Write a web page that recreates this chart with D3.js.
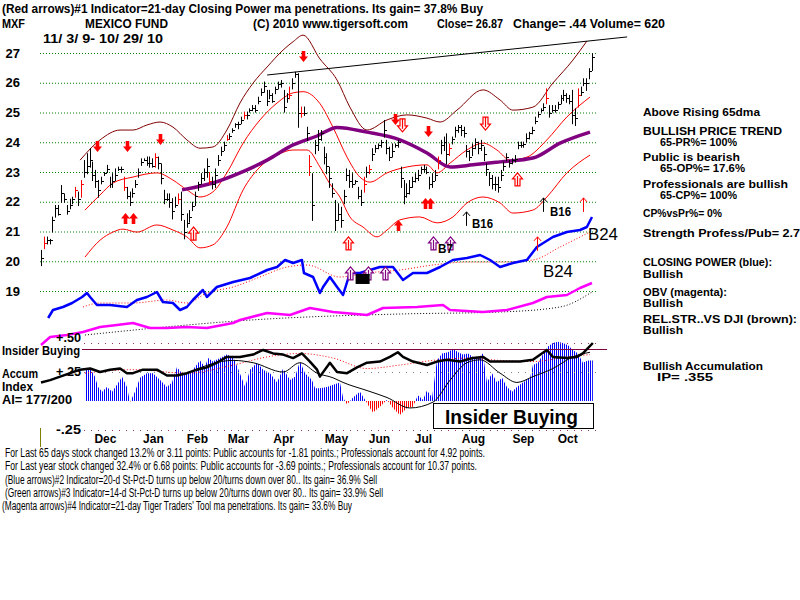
<!DOCTYPE html>
<html>
<head>
<meta charset="utf-8">
<script src="https://cdn.jsdelivr.net/npm/d3@7"></script>
<style>
    body { margin: 0; background: #fff; }
    svg { display: block; }
    text { font-family: "Liberation Sans", Arial, sans-serif; }
</style>
</head>
<body>
<svg id="chart" width="800" height="600"></svg>
<script>
// ---- price bars (about every 2nd trading day, 11/3/09 - 10/29/10) ----
const barHigh = [20.38,20.83,20.83,20.75,21.5,21.89,21.89,22.56,22.28,21.89,22.1,22.17,22.5,22.34,22.73,23.4,23.63,23.8,23.35,23.07,22.73,22.84,23.0,23.24,22.84,22.96,23.12,23.18,23.18,22.84,22.5,22.34,22.45,22.73,23.12,23.46,23.46,23.52,23.52,23.46,23.63,23.52,23.29,22.4,22.28,22.28,22.12,22.17,22.28,
    22.34,21.39,21.61,21.72,22.0,22.34,22.67,22.96,23.12,23.46,23.0,22.84,23.12,23.57,23.85,24.02,24.24,24.3,24.47,24.64,24.69,24.86,25.03,25.03,25.14,25.25,25.25,25.53,25.81,26.04,25.76,25.76,25.65,25.87,26.04,26.09,25.76,25.65,25.87,26.15,26.37,26.32,25.2,25.2,24.52,23.57,
    22.96,24.08,24.41,24.41,23.85,23.63,23.18,22.62,22.06,21.95,21.83,22.4,23.12,23.07,22.96,22.73,22.5,22.4,22.84,23.18,23.24,23.8,23.91,23.96,24.08,24.75,24.08,23.85,23.96,23.96,24.08,23.18,22.73,22.62,22.73,22.84,22.96,23.07,23.18,23.24,23.18,22.84,22.96,23.07,23.52,24.08,24.19,24.3,23.96,24.19,24.52,24.58,
    24.58,24.52,23.91,23.74,23.96,24.13,24.02,24.08,23.85,23.29,23.0,22.9,22.84,22.84,23.07,23.35,23.63,23.4,23.46,23.57,24.02,24.02,24.02,24.3,24.35,24.52,24.86,25.03,25.14,25.31,25.81,25.25,25.25,25.25,25.36,25.59,25.76,25.65,25.59,25.76,25.14,25.81,25.87,26.15,26.15,26.49,26.99];
const barLow = [19.87,20.44,20.6,20.6,21.0,21.5,21.57,22.0,22.0,21.6,21.78,21.95,22.17,21.89,22.17,22.84,22.96,23.18,22.73,22.5,22.17,22.62,22.9,23.0,22.5,22.5,22.73,23.07,23.0,22.4,22.12,21.89,22.17,22.5,22.84,23.24,23.4,23.24,23.18,23.18,23.18,23.12,22.62,21.95,22.06,21.83,21.44,21.83,21.95,
    21.39,20.77,21.16,21.33,21.72,21.89,22.4,22.62,22.73,22.84,22.62,22.45,22.5,23.24,23.57,23.74,24.08,24.13,24.35,24.52,24.47,24.64,24.8,24.8,25.03,25.08,25.03,25.31,25.59,25.7,25.25,25.48,25.36,25.65,25.81,25.87,25.03,25.36,25.48,25.81,26.2,24.52,24.86,24.92,24.08,22.9,
    21.39,23.63,23.74,24.08,23.29,22.96,22.5,22.17,21.05,21.39,21.16,21.95,22.73,22.5,22.5,22.62,22.12,21.89,22.34,22.84,22.96,23.4,23.68,23.8,23.85,24.19,23.63,23.4,23.52,23.85,23.85,22.5,21.95,22.17,22.28,22.5,22.68,22.73,22.96,23.02,22.96,22.45,22.5,22.73,23.12,23.63,23.74,23.29,23.57,23.96,24.19,24.35,
    24.24,24.19,23.52,23.4,23.57,23.8,23.63,23.74,23.4,22.9,22.56,22.45,22.4,22.34,22.73,23.07,23.4,23.18,23.29,23.35,23.8,23.85,23.85,24.02,24.13,24.3,24.64,24.86,25.03,25.08,25.31,24.86,25.03,25.03,25.14,25.31,25.42,25.36,25.31,24.64,24.58,25.2,25.59,25.92,25.76,26.15,26.43];
const barClose = [20.1,20.6,20.7,20.7,21.4,21.8,21.6,22.3,22.1,21.7,21.9,22.1,22.4,22.1,22.6,23.0,23.2,23.4,22.9,22.7,22.4,22.7,22.95,23.1,22.6,22.7,22.9,23.1,23.1,22.5,22.2,22.0,22.3,22.6,23.0,23.35,23.4,23.3,23.3,23.2,23.5,23.3,22.8,22.1,22.1,22.0,21.7,21.9,22.1,
    21.6,21.0,21.3,21.5,21.85,22.2,22.6,22.8,23.0,23.2,22.7,22.6,22.9,23.4,23.7,23.9,24.1,24.2,24.4,24.6,24.6,24.75,24.9,24.9,25.1,25.15,25.1,25.4,25.7,25.9,25.4,25.6,25.4,25.8,25.95,26.0,25.2,25.5,25.6,26.0,26.3,25.0,25.0,25.0,24.3,23.2,
    21.9,23.9,24.1,24.3,23.5,23.2,22.8,22.3,21.4,21.6,21.4,22.2,22.9,22.7,22.6,22.7,22.2,22.0,22.6,23.0,23.1,23.6,23.8,23.9,24.0,24.4,23.8,23.5,23.7,23.9,24.0,22.8,22.2,22.3,22.5,22.7,22.8,22.9,23.1,23.1,23.0,22.6,22.7,22.9,23.4,23.9,24.0,23.6,23.8,24.1,24.4,24.5,
    24.4,24.3,23.7,23.5,23.8,24.0,23.8,23.9,23.6,23.1,22.8,22.6,22.6,22.5,22.9,23.2,23.5,23.3,23.4,23.45,23.9,23.9,23.95,24.15,24.3,24.4,24.7,24.95,25.1,25.2,25.5,25.0,25.1,25.1,25.3,25.5,25.6,25.5,25.4,24.9,24.8,25.6,25.7,26.0,26.0,26.4,26.87];
// bars drawn red (Closing Power signal days)
const redBars = [1,12,14,29,40,48,59,65,71,87,91,94,113,115,139,143,177,188];

const priceTicks = [19,20,21,22,23,24,25,26,27];
const months = ["Dec","Jan","Feb","Mar","Apr","May","Jun","Jul","Aug","Sep","Oct"];
const monthPos = [22.4,39.2,54.6,69,84.8,103.3,118.4,133.8,151.3,168.8,184.3];

// ---- 21-day ma and its bands (bar index, price) ----
const maDay = [15.4,20.7,25.2,32.2,40.6,46.2,51.1,55.7,60.2,65.1,70.8,76.7,82.7,88.3,91.8,97.7,102.3,107.2,111.7,115.2,121.2,128.2,135.2,138.7,143.3,149.2,154.8,159.7,164.3,170.2,177.2,184.2,192.3];
const maVal = [21.72,22.23,22.63,22.83,22.97,22.73,22.4,22.16,22.33,22.97,23.97,24.75,25.32,25.66,25.7,25.3,24.5,23.5,22.83,22.66,22.97,23.17,23.24,22.97,23.3,23.74,23.97,23.74,23.4,23.5,24.08,24.85,25.52];
const upperDay = [13.7,20.7,27.7,32.2,37.1,41.7,46.2,51.1,55.7,60.2,65.1,69.7,74.3,79.2,84.8,88.3,91.8,97.7,103.7,108.2,114.2,121.2,128.2,135.2,139.8,145.7,154.8,160.8,165.3,172.3,179.3,186.3,191.2];
const upperVal = [23.4,24.08,24.41,24.41,24.58,24.68,24.51,24.08,23.8,23.84,24.41,25.32,25.99,26.53,27.1,27.38,27.6,26.8,26.09,25.18,24.41,24.75,24.92,24.81,24.68,25.08,25.76,25.42,25.08,25.18,25.99,26.76,27.4];
const lowerDay = [15.4,20.7,25.2,28.7,33.6,40.6,46.2,51.1,55.7,60.2,65.1,70.8,76.7,82.7,88.3,93.2,97.7,101.2,104.7,108.2,112.8,117.7,121.2,125.7,132.7,138.7,144.3,149.2,154.8,160.8,165.3,172.3,177.2,184.2,192.3];
const lowerVal = [20.14,20.71,20.98,21.08,20.98,21.22,21.05,20.82,20.45,20.55,21.15,22.4,23.17,23.57,23.74,23.74,23.17,22.6,22.16,21.49,21.15,20.82,21.05,21.39,21.49,21.29,21.49,21.96,22.16,21.96,21.62,21.72,22.16,22.97,23.57];
const ma65Day = [49.4,60.2,69.7,79.2,88.3,96.7,103.7,114.2,125.7,135.2,143.3,151.3,160.8,172.3,181.8,192.3];
const ma65Val = [22.4,22.63,22.97,23.4,23.91,24.21,24.5,24.34,24.08,23.64,23.17,23.24,23.34,23.47,23.97,24.34];
const trendDay = [79.2,205.3];
const trendVal = [26.26,27.54];

// ---- Closing Power (blue) and its ma, OBV (magenta) and its ma ----
const cpDay = [2.5,4.2,7.7,10.9,14.4,16.1,17.2,19.6,24.2,30.1,33.6,37.1,40.6,42.7,46.2,48.7,51.1,53.2,56.7,58.1,61.6,67.3,73.2,79.2,82.7,85.5,88.3,91.4,92.1,95.3,97.7,98.8,101.2,103.7,105.8,108.2,111.7,115.2,118.7,123.3,126.8,130.3,135.2,139.8,144.3,149.2,153.8,157.3,160.8,165.3,170.2,173.7,179.3,184.2,188.8,191.2,193];
const cpVal = [2,10,13,17,23,27,23,15,15,13,20,23,28,18,17,10,13,20,30,23,33,38,42,50,53,60,57,60,47,43,27,33,43,33,25,47,47,50,53,53,40,47,47,53,60,62,65,60,53,57,60,73,83,88,90,93,103];
const cpMaDay = [14.7,20.7,32.2,44.1,51.1,58.1,67.3,76.7,86.2,93.2,104.7,114.2,125.7,137.3,149.2,160.8,172.3,181.8,192.3];
const cpMaVal = [13,17,17,20,17,27,33,43,53,55,43,47,50,55,58,58,60,73,88];
const obvDay = [0,3.2,9.1,14.7,20.7,26.6,32.2,38.2,44.1,51.1,58.1,67.3,69.7,79.2,87.2,94.2,102.3,114.2,119.8,131.7,140.8,143.3,154.8,163.2,172.3,177.2,184.2,188.8,193];
const obvVal = [5,13,15,18,23,25,27,22,22,23,22,27,30,37,35,42,38,35,42,43,45,40,38,40,47,53,55,62,67];
const obvMaDay = [15.4,79.2,125.7,160.8,181.8,193];
const obvMaVal = [15,31,36,38,43,58];

// ---- Accumulation Index panel ----
const aiDay = [15.4,17.2,18.9,20.0,21.4,23.1,24.9,26.6,28.4,30.1,31.2,32.9,34.7,37.1,39.2,41.7,44.1,45.9,47.6,49.4,51.1,53.2,55.7,57.4,58.5,60.2,62.7,65.1,67.3,69.0,71.5,73.2,75.7,77.8,80.2,82.7,84.8,87.2,89.0,90.7,92.5,94.9,96.0,97.7,100.2,102.3,104.7,105.8,107.2,109.3,111.7,113.5,115.2,116.3,118.7,121.2,123.3,125.7,128.2,130.3,132.0,133.8,135.2,137.0,138.7,140.5,142.6,144.3,146.1,147.8,149.6,151.3,153.1,154.8,156.2,158.0,159.7,161.5,163.2,165.0,166.7,168.8,171.3,172.3,174.1,175.8,177.6,179.3,181.1,182.8,184.6,186.3,188.1,189.8,191.6,193.3];
const aiVal = [0.27,0.28,0.21,0.12,0.08,0.12,0.08,0.14,0.21,0.12,-0.01,0.08,0.2,0.24,0.24,0.18,0.12,0.16,0.29,0.24,0.24,0.27,0.35,0.29,0.37,0.34,0.37,0.4,0.38,0.28,0.12,0.27,0.33,0.27,0.24,0.16,0.28,0.18,0.21,0.34,0.24,0.18,0.11,0.11,0.12,0.14,0.16,0.03,-0.03,0.03,0.08,0.01,-0.06,-0.1,-0.05,0.01,-0.06,-0.12,-0.06,-0.05,0.05,0.01,0.09,0.03,0.35,0.41,0.42,0.45,0.42,0.4,0.41,0.38,0.37,0.41,0.16,0.24,0.16,0.2,0.12,0.08,0.12,0.16,0.2,0.31,0.33,0.4,0.47,0.5,0.51,0.5,0.48,0.44,0.41,0.33,0.35,0.35];
const rsDay = [0,3.2,6.7,10.2,13.7,17.2,20.7,24.2,27.7,30.1,32.2,35.7,40.6,44.1,47.6,51.1,54.6,58.1,61.6,65.1,69.7,74.3,77.8,81.3,84.8,88.3,91.4,94.2,96.7,97.7,101.2,103.7,107.2,110.7,114.2,118.7,122.2,125.0,126.8,130.3,135.2,138.7,142.2,146.8,151.3,154.8,157.3,163.2,167.8,172.3,177.2,179.3,184.2,187.7,189.8,193.3];
const rsVal = [0.16,0.18,0.21,0.24,0.27,0.28,0.25,0.27,0.28,0.24,0.24,0.27,0.27,0.22,0.22,0.24,0.27,0.29,0.33,0.38,0.38,0.4,0.44,0.41,0.4,0.37,0.41,0.34,0.27,0.21,0.33,0.25,0.24,0.29,0.33,0.34,0.38,0.42,0.38,0.34,0.31,0.34,0.355,0.34,0.37,0.38,0.34,0.34,0.34,0.355,0.44,0.38,0.37,0.38,0.41,0.5];
const aiMaDay = [51.1,67.3,74.3,84.8,90.7,96.7,102.3,105.8,114.2,121.2,129.2,137.3,143.3,149.2,153.8,160.8,166.7,172.3,179.3,186.3,192.3];
const aiMaVal = [0.24,0.35,0.33,0.25,0.33,0.24,0.2,0.16,0.09,0.03,-0.06,-0.01,0.18,0.33,0.355,0.24,0.16,0.21,0.28,0.38,0.42];
const aiMa2Day = [15.4,32.2,51.1,67.3,79.2,90.7,102.3,114.2,125.7,137.3,149.2,160.8,172.3,184.2,192.3];
const aiMa2Val = [0.24,0.27,0.24,0.31,0.38,0.41,0.37,0.28,0.31,0.35,0.37,0.35,0.34,0.38,0.4];
const aiTicks = [0.5, 0.25, -0.25];
const aiTickLabels = ["+.50", "+.25", "-.25"];

// ---- signal arrows (bar index, price at arrow tip) ----
const signalDay = [19.6,30.1,41.7,91.8,124,126.4,135.6,155.5,29.4,32.2,53.2,107.5,125,134.5,136.3,166.7,173.7,189.8,148.9,175.8,137.3,143.3,108.2,114.5,120.5];
const signalPrice = [23.67,23.67,23.91,26.7,24.58,24.35,24.18,24.41,21.62,21.62,21.15,20.82,21.39,22.13,22.13,22.97,20.82,22.13,21.66,22.13,20.82,20.82,19.81,19.81,19.81];
const signalType = ["sell","sell","sell","sell","sell","sell2","sell","sell2","buy","buy","buy2","buy2","buy","buy","buy","buy2","buyThin","buyThin","b16","b16","b7","b7","b7","b7","b7"];
const signalLabel = ["B16","B16","B7","B24","B24","B7"];
const signalLabelDay = [151,178.3,139.1,191.6,175.8,110.2];
const signalLabelPrice = [21.12,21.52,20.28,20.71,19.47,19.27];

const headerLine = "(Red arrows)#1 Indicator=21-day Closing Power ma penetrations. Its gain= 37.8% Buy";
const headerItems = ["MXF", "MEXICO FUND", "(C) 2010 www.tigersoft.com", "Close=  26.87", "Change= .44 Volume= 620"];
const dateRange = "11/ 3/ 9- 10/ 29/ 10";
const sideNotes = ["Above Rising 65dma", "BULLISH PRICE TREND", "65-PR%= 100%", "Public is bearish", "65-OP%= 17.6%",
    "Professionals are bullish", "65-CP%= 100%", "CP%vsPr%=  0%", "Strength Profess/Pub= 2.7",
    "CLOSING POWER (blue):", "Bullish", "OBV (magenta):", "Bullish", "REL.STR..VS DJI (brown):", "Bullish",
    "Bullish Accumulation", "IP=  .355"];
const footNotes = [
    "For Last 65 days stock changed  13.2% or  3.11 points:  Public accounts for -1.81 points.;  Professionals account for  4.92 points.",
    "For Last year stock changed  32.4% or  6.68 points:  Public accounts for -3.69 points.;  Professionals account for  10.37 points.",
    "(Blue arrows)#2 Indicator=20-d St-Pct-D turns up below 20/turns down over 80.. Its gain= 36.9% Sell",
    "(Green arrows)#3 Indicator=14-d St-Pct-D turns up below 20/turns down over 80.. Its gain= 33.9% Sell",
    "(Magenta arrows)#4 Indicator=21-day Tiger Traders' Tool ma penetrations. Its gain= 33.6% Buy"];
const panelLabels = ["Insider Buying", "Accum", "Index", "AI= 177/200"];

const svg = d3.select("#chart");
svg.append("rect").attr("width", 800).attr("height", 600).attr("fill", "#fff");

const x = d3.scaleLinear().domain([0, barHigh.length - 1]).range([41, 592]);
const y = d3.scaleLinear().domain([19, 27]).range([291, 53]);
const cpY = d3.scaleLinear().domain([0, 100]).range([320, 220]);
const obvY = d3.scaleLinear().domain([0, 50]).range([350, 300]);
const aiY = d3.scaleLinear().domain([-0.25, 0.5]).range([430, 343]);

function addText(str, xPos, yPos, size, weight, fitWidth, family) {
    const t = svg.append("text")
        .attr("x", xPos)
        .attr("y", yPos)
        .attr("font-size", `${size}px`)
        .attr("font-weight", weight)
        .attr("fill", "#000")
        .text(str);
    if (family) t.style("font-family", family);
    if (fitWidth) t.attr("textLength", fitWidth).attr("lengthAdjust", "spacingAndGlyphs");
    return t;
}

function drawSeries(days, vals, yScale, color, width, dash, curve) {
    svg.append("path")
        .datum(d3.zip(days, vals))
        .attr("d", d3.line().x(d => x(d[0])).y(d => yScale(d[1])).curve(curve || d3.curveLinear))
        .attr("fill", "none")
        .attr("stroke", color)
        .attr("stroke-width", width)
        .attr("stroke-dasharray", dash || null)
        .attr("stroke-linejoin", "round");
}

// price grid + labels
svg.append("g")
    .attr("transform", "translate(40,0)")
    .call(d3.axisLeft(y).tickValues(priceTicks).tickSize(-556).tickPadding(20).tickFormat(d3.format("d")))
    .call(g => g.select(".domain").remove())
    .call(g => g.selectAll("line").attr("stroke", "#008000").attr("stroke-dasharray", "1,2"))
    .call(g => g.selectAll("text").attr("font-size", "13px").attr("font-weight", "bold").attr("fill", "#000")
        .style("font-family", "Liberation Sans, Arial, sans-serif"));

// bands and moving averages
drawSeries(upperDay, upperVal, y, "#800000", 1, null, d3.curveMonotoneX);
drawSeries(maDay, maVal, y, "#ff0000", 1, null, d3.curveMonotoneX);
drawSeries(lowerDay, lowerVal, y, "#ff0000", 1, null, d3.curveMonotoneX);
drawSeries(ma65Day, ma65Val, y, "#800080", 3.5, null, d3.curveMonotoneX);
drawSeries(trendDay, trendVal, y, "#000", 1);

// price bars
const bars = svg.append("g");
barHigh.forEach((h, i) => {
    const col = redBars.includes(i) ? "#ff0000" : "#000";
    const bx = Math.round(x(i)) + 0.5;
    bars.append("line")
        .attr("x1", bx).attr("x2", bx)
        .attr("y1", y(h)).attr("y2", y(barLow[i]) + 1)
        .attr("stroke", col).attr("stroke-width", 1);
    bars.append("line")
        .attr("x1", bx).attr("x2", bx + 2.5)
        .attr("y1", Math.round(y(barClose[i])) + 0.5).attr("y2", Math.round(y(barClose[i])) + 0.5)
        .attr("stroke", col).attr("stroke-width", 1);
});

// closing power and OBV
drawSeries(cpMaDay, cpMaVal, cpY, "#ff0000", 1, "1,2", d3.curveMonotoneX);
drawSeries(cpDay, cpVal, cpY, "#0000ff", 2.5);
drawSeries(obvMaDay, obvMaVal, obvY, "#000", 1, "1,2", d3.curveMonotoneX);
drawSeries(obvDay, obvVal, obvY, "#ff00ff", 2.5);

// arrows
const arrowStyle = {
    sell: {dir: -1, kind: "solid", color: "#ff0000"},
    sell2: {dir: -1, kind: "hollow", color: "#ff0000"},
    buy: {dir: 1, kind: "solid", color: "#ff0000"},
    buy2: {dir: 1, kind: "hollow", color: "#ff0000"},
    buyThin: {dir: 1, kind: "thin", color: "#ff0000"},
    b16: {dir: 1, kind: "thin", color: "#000"},
    b7: {dir: 1, kind: "hollow", color: "#800080"}
};
signalDay.forEach((d, i) => {
    const st = arrowStyle[signalType[i]];
    const g = svg.append("g")
        .attr("transform", `translate(${Math.round(x(d)) + 0.5},${y(signalPrice[i])}) scale(1,${st.dir})`);
    if (st.kind === "solid") {
        g.append("path")
            .attr("d", "M0,0 L-4.5,5.5 L-1.8,5.5 L-1.8,11 L1.8,11 L1.8,5.5 L4.5,5.5 Z")
            .attr("fill", st.color);
    } else if (st.kind === "hollow") {
        g.append("path")
            .attr("d", "M0,0 L-5,6 L-2.5,6 L-2.5,13 L2.5,13 L2.5,6 L5,6 Z")
            .attr("fill", "#fff").attr("stroke", st.color).attr("stroke-width", 1.2);
        g.append("path")
            .attr("d", "M0,3 L0,13")
            .attr("stroke", st.color).attr("stroke-width", 1.2);
    } else {
        g.append("path")
            .attr("d", "M0,0 L0,14 M-3.5,4 L0,0 L3.5,4")
            .attr("fill", "none").attr("stroke", st.color).attr("stroke-width", 1);
    }
});

// signal labels
signalLabel.forEach((lab, i) => {
    const lx = x(signalLabelDay[i]);
    const ly = y(signalLabelPrice[i]);
    if (lab === "B24") {
        addText(lab, lx, ly, 17, "normal", 30);
    } else if (i === 5) {
        svg.append("rect").attr("x", lx).attr("y", ly - 9).attr("width", 14).attr("height", 10).attr("fill", "#000");
        addText(lab, lx, ly, 12, "bold", 14);
    } else {
        addText(lab, lx, ly, 13, "bold", lab === "B7" ? 15 : 21);
    }
});

// ---- Accumulation Index panel ----
const defs = svg.append("defs");
[["aiBlue", "#0000ff"], ["aiRed", "#ff0000"]].forEach(([id, col]) => {
    defs.append("pattern")
        .attr("id", id)
        .attr("patternUnits", "userSpaceOnUse")
        .attr("width", 2).attr("height", 4)
        .append("rect").attr("width", 1).attr("height", 4).attr("fill", col);
});
defs.append("clipPath").attr("id", "aboveZero")
    .append("rect").attr("x", 0).attr("y", 300).attr("width", 800).attr("height", aiY(0) - 300);
defs.append("clipPath").attr("id", "belowZero")
    .append("rect").attr("x", 0).attr("y", aiY(0)).attr("width", 800).attr("height", 60);

const aiArea = d3.area()
    .x(d => x(d[0]))
    .y0(aiY(0))
    .y1(d => aiY(d[1]));
svg.append("path").datum(d3.zip(aiDay, aiVal)).attr("d", aiArea)
    .attr("fill", "url(#aiBlue)").attr("clip-path", "url(#aboveZero)");
svg.append("path").datum(d3.zip(aiDay, aiVal)).attr("d", aiArea)
    .attr("fill", "url(#aiRed)").attr("clip-path", "url(#belowZero)");

// dotted reference levels
const levelColors = ["#993366", "#808080", "#993366"];
const levelLabelY = [342, 376, 434];
aiTicks.forEach((v, i) => {
    svg.append("line")
        .attr("x1", 84).attr("x2", 596)
        .attr("y1", Math.round(aiY(v)) + 0.5).attr("y2", Math.round(aiY(v)) + 0.5)
        .attr("stroke", levelColors[i]).attr("stroke-dasharray", "1,6");
    addText(aiTickLabels[i], 56, levelLabelY[i], 12, "bold", 25);
});
// insider buying level
svg.append("line")
    .attr("x1", 82).attr("x2", 607).attr("y1", 349.5).attr("y2", 349.5)
    .attr("stroke", "#800040").attr("stroke-width", 1);

drawSeries(aiMa2Day, aiMa2Val, aiY, "#ff0000", 1, "1,2", d3.curveMonotoneX);
drawSeries(aiMaDay, aiMaVal, aiY, "#000", 1, null, d3.curveMonotoneX);
drawSeries(rsDay, rsVal, aiY, "#000", 2.5);

svg.append("rect")
    .attr("x", 433.5).attr("y", 403.5).attr("width", 160).attr("height", 25)
    .attr("fill", "#fff").attr("stroke", "#000");
addText("Insider Buying", 445, 424, 20, "bold", 133);

addText(panelLabels[0], 2, 355, 12, "bold", 78);
addText(panelLabels[1], 2, 378, 12, "bold", 36);
addText(panelLabels[2], 2, 391, 12, "bold", 31);
addText(panelLabels[3], 2, 404, 12, "bold", 70);
svg.append("line").attr("x1", 40.5).attr("x2", 40.5).attr("y1", 428).attr("y2", 447)
    .attr("stroke", "#808000");

// month labels
svg.append("g")
    .attr("transform", "translate(0,430)")
    .call(d3.axisBottom(x).tickValues(monthPos).tickFormat((d, i) => months[i]).tickSize(0).tickPadding(4))
    .call(g => g.select(".domain").remove())
    .call(g => g.selectAll("text").attr("font-size", "12px").attr("font-weight", "bold").attr("fill", "#000")
        .style("font-family", "Liberation Sans, Arial, sans-serif"));

// ---- header ----
addText(headerLine, 2, 13, 12, "bold", 481);
const headerX = [2, 85, 253, 437, 513];
const headerW = [23, 83, 155, 66, 152];
headerItems.forEach((s, i) => addText(s, headerX[i], 28, 12, "bold", headerW[i]));
addText(dateRange, 43, 43, 12, "bold", 120);

// ---- right side notes ----
const noteX = [643,643,660,643,660,643,660,643,643,643,643,643,643,643,643,643,657];
const noteY = [116,135,146,161,172,188,199,217,237,266,278,296,307,323,334,370,381];
const noteW = [117,139,77,97,85,145,77,79,157,129,40,84,40,154,40,120,56];
sideNotes.forEach((s, i) => addText(s, noteX[i], noteY[i], 10.5, "bold", noteW[i]));

// ---- footer ----
const footX = [5, 5, 5, 5, 2];
const footY = [457, 470, 484, 497, 510];
const footW = [480, 472, 372, 378, 350];
const narrow = "Liberation Sans Narrow, Arial Narrow, sans-serif";
footNotes.forEach((s, i) => addText(s, footX[i], footY[i], 12, "normal", footW[i], narrow));
</script>
</body>
</html>
